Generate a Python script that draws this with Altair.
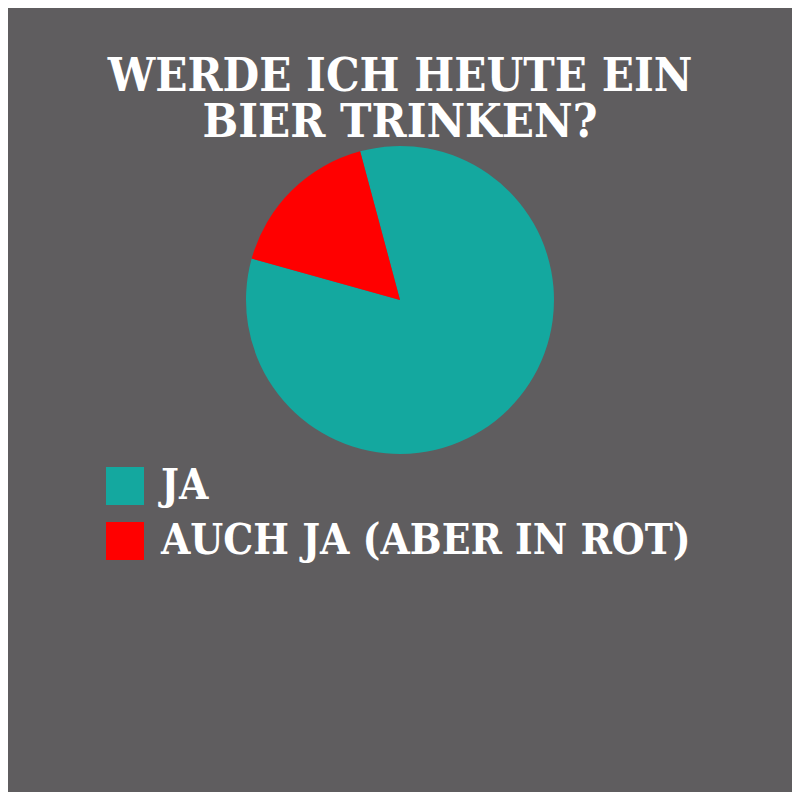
import altair as alt
import pandas as pd

categories = ["JA", "AUCH JA (ABER IN ROT)"]
shares = [83.5, 16.5]
colors = ["#14a89f", "#ff0000"]
title_lines = ["WERDE ICH HEUTE EIN", "BIER TRINKEN?"]

FONT = "DejaVu Serif Condensed"
BG = "#5f5d5f"

df = pd.DataFrame({"cat": categories, "share": shares, "ord": [0, 1]})

pie = alt.Chart(df).mark_arc(outerRadius=154, stroke=None).encode(
    theta=alt.Theta("share:Q", stack=True,
                    scale=alt.Scale(range=[-0.2618, 6.0214])),
    order=alt.Order("ord:Q"),
    color=alt.Color("cat:N", sort=categories,
                    scale=alt.Scale(domain=categories, range=colors),
                    legend=alt.Legend(title=None, orient="none",
                                      legendX=96, legendY=457)),
    x=alt.value(392),
    y=alt.value(292),
)

tdf = pd.DataFrame({"t": title_lines, "row": [0, 1]})
title = alt.Chart(tdf).mark_text(
    font=FONT, fontWeight="bold", fontSize=47, color="white",
    align="center", baseline="alphabetic"
).encode(
    text="t:N",
    x=alt.value(392),
    y=alt.Y("row:Q", scale=alt.Scale(domain=[0, 1], range=[83, 129]), axis=None),
)

chart = alt.layer(pie, title).resolve_scale(y="independent").properties(
    width=784, height=784, background=BG, padding=0,
    autosize=alt.AutoSizeParams(type="none"),
).configure_view(stroke=None).configure_legend(
    symbolType="square", symbolSize=1444, symbolStrokeWidth=0,
    labelFont=FONT, labelFontWeight="bold", labelFontSize=42,
    labelColor="white", labelOffset=15, labelLimit=800,
    rowPadding=13, padding=0, symbolOffset=0, offset=0,
)

chart.save("out.html", embed_options={"renderer": "svg", "actions": False})
